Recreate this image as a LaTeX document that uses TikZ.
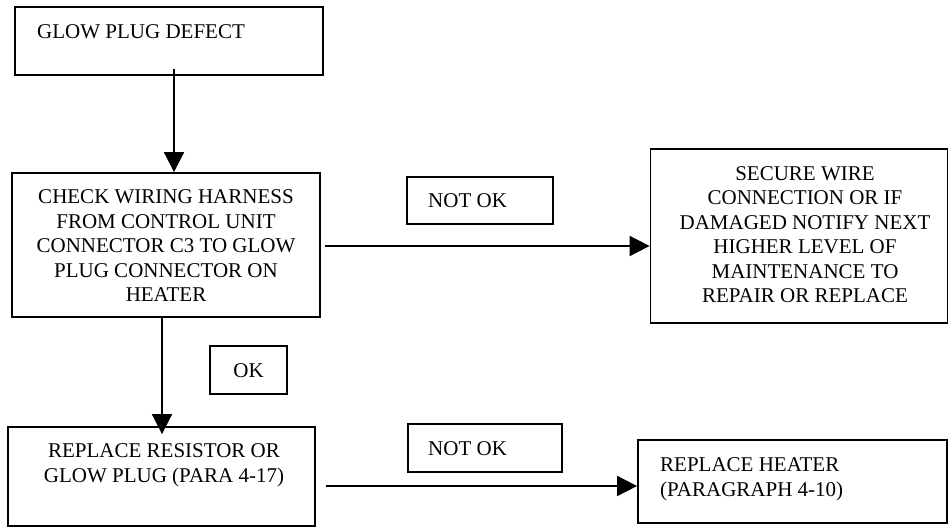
\documentclass[tikz,border=0pt]{standalone}
\usepackage{fontspec}
\setmainfont{Liberation Serif}
\usetikzlibrary{arrows.meta}
\begin{document}
\begin{tikzpicture}[x=1pt,y=-1pt,
  box/.style={draw=black,line width=1.8pt,rectangle,inner sep=0pt},
  txt/.style={inner sep=0pt,font=\fontsize{21}{24.5}\selectfont},
  arr/.style={line width=1.8pt,-{Triangle[length=20pt,width=20pt]}}]
\useasboundingbox (0,0) rectangle (949,527);
% boxes
\node[box,minimum width=308pt,minimum height=68pt] (b1) at (169,41) {};
\node[box,minimum width=308pt,minimum height=144pt] (b2) at (166,245) {};
\node[box,minimum width=297pt,minimum height=174pt] (b3) at (799,236) {};
\node[box,minimum width=307pt,minimum height=99pt] (b4) at (161.5,476.5) {};
\node[box,minimum width=309pt,minimum height=83pt] (b5) at (792.5,481.5) {};
\node[box,minimum width=146pt,minimum height=47pt] (l1) at (480,200.5) {};
\node[box,minimum width=77pt,minimum height=48pt] (l2) at (248.5,370) {};
\node[box,minimum width=154pt,minimum height=48pt] (l3) at (485,448) {};
% texts
\node[txt,anchor=base west] (t1) at (37,39) {GLOW PLUG DEFECT};
\node[txt,align=center] (t2) at (166,246) {CHECK WIRING HARNESS\\FROM CONTROL UNIT\\CONNECTOR C3 TO GLOW\\PLUG CONNECTOR ON\\HEATER};
\node[txt,align=center] (t3) at (805,234.5) {SECURE WIRE\\CONNECTION OR IF\\DAMAGED NOTIFY NEXT\\HIGHER LEVEL OF\\MAINTENANCE TO\\REPAIR OR REPLACE};
\node[txt,align=center,anchor=base] (t4) at (164,482) {REPLACE RESISTOR OR\\GLOW PLUG (PARA 4-17)};
\node[txt,align=left,anchor=base west] (t5) at (660,496) {REPLACE HEATER\\(PARAGRAPH 4-10)};
\node[txt,anchor=base west] (t6) at (428,207) {NOT OK};
\node[txt,anchor=base] (t7) at (248.5,377) {OK};
\node[txt,anchor=base west] (t8) at (428,455) {NOT OK};
% connectors
\draw[arr] ([xshift=5pt,yshift=7pt]b1.south) -- ([xshift=8pt]b2.north);
\draw[arr] ([xshift=-4pt]b2.south) -- ([xshift=0.5pt,yshift=-8pt]b4.north);
\draw[arr] ([xshift=4pt,yshift=-1pt]b2.east) -- ([yshift=-10pt]b3.west);
\draw[arr] ([xshift=10pt,yshift=-9.5pt]b4.east) -- ([yshift=-4.5pt]b5.west);
\end{tikzpicture}
\end{document}
